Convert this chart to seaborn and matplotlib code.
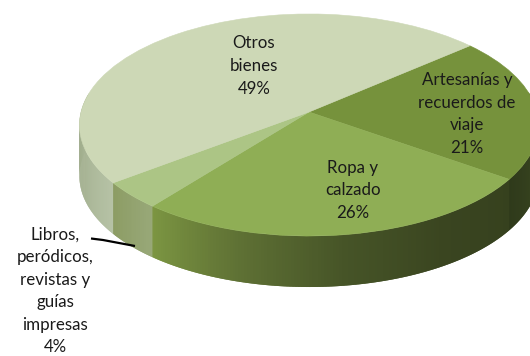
import numpy as np
import matplotlib
matplotlib.use("Agg")
import matplotlib.pyplot as plt
import matplotlib.transforms as mtransforms
from matplotlib.colors import to_rgb
import seaborn as sns

categories = ["Artesanías y\nrecuerdos de\nviaje", "Ropa y\ncalzado",
              "Libros,\nperódicos,\nrevistas y\nguías\nimpresas", "Otros\nbienes"]
shares = [21, 26, 4, 49]
top_colors = ["#76923C", "#8FAE55", "#ACC585", "#CDD8B6"]
# side shade stops for each slice, in order of increasing rim angle
side_stops = [["#2F3A1B", "#3A4620", "#46552A"],
              ["#7C9642", "#5E7034", "#465427", "#3A4520", "#36411E"],
              ["#8C9C64", "#98A878"],
              ["#8E9C7A", "#A3B08F", "#B6C2A6"]]
label_xy = [(467, 114), (353, 190), (55, 291), (254, 66)]
leader_x = [91, 103, 135]
leader_y = [238.5, 240, 246]

CX, CY, RX, SY, P, DEPTH, START = 309.0, 112.0, 228.0, 109.5, 0.117, 51.0, 40.6


class Persp(mtransforms.Transform):
    input_dims = 2
    output_dims = 2
    is_separable = False
    has_inverse = False

    def transform_non_affine(self, values):
        values = np.asarray(values, dtype=float)
        u, v = values[:, 0], values[:, 1]
        w = 1 + P * v
        return np.column_stack([CX + RX * u / w, CY - SY * v / w])


sns.set_theme(style="white")
plt.rcParams["font.family"] = ["Lato", "DejaVu Sans"]

fig = plt.figure(figsize=(5.30, 3.56), dpi=100, facecolor="white")
ax = fig.add_axes([0, 0, 1, 1])
palette = sns.color_palette(top_colors)

wedges, _ = ax.pie(shares, colors=palette, startangle=START, counterclock=False,
                   radius=1, wedgeprops={"linewidth": 0.4})
ax.set_aspect("auto")
ax.set_xlim(0, 530)
ax.set_ylim(356, 0)
ax.axis("off")

persp = Persp()
for w, c in zip(wedges, palette):
    w.set_transform(persp + ax.transData)
    w.set_edgecolor(c)
    w.set_zorder(3)

# extruded rim, drawn from the same slice angles; later strips cover the overlap
ends = START - np.cumsum(shares) * 3.6
starts = np.r_[START, ends[:-1]]
for a0, a1, stops in reversed(list(zip(starts, ends, side_stops))):
    lo, hi = sorted((a0, a1))
    lo_n, hi_n = lo % 360, (lo % 360) + (hi - lo)
    for shift in (0, -360):
        l, h = max(lo_n + shift, -190), min(hi_n + shift, 10)
        if h <= l:
            continue
        n = max(int((h - l) * 1.5), 2)
        edges = np.radians(np.linspace(l, h, n + 1))
        step = edges[1] - edges[0]
        rgb = np.array([to_rgb(s) for s in stops])
        pos = np.linspace(0, 1, len(stops))
        for i in range(n):
            t = np.linspace(edges[i], edges[i + 1] + step, 3)
            rim = persp.transform_non_affine(np.column_stack([np.cos(t), np.sin(t)]))
            xs = np.r_[rim[:, 0], rim[::-1, 0]]
            ys = np.r_[rim[:, 1], rim[::-1, 1] + DEPTH]
            f = (i + 0.5) / n
            col = [np.interp(f, pos, rgb[:, k]) for k in range(3)]
            ax.fill(xs, ys, facecolor=col, edgecolor="none", lw=0, zorder=1)

pct = [f"{s}%" for s in shares]
for name, p, (x, y) in zip(categories, pct, label_xy):
    ax.text(x, y, f"{name}\n{p}", ha="center", va="center", fontsize=12.2,
            color="#1a1a1a", linespacing=1.5, zorder=5)

ax.plot(leader_x, leader_y, color="black", lw=1.6, zorder=6, solid_capstyle="butt")

fig.savefig("out.png", dpi=100, facecolor="white")
